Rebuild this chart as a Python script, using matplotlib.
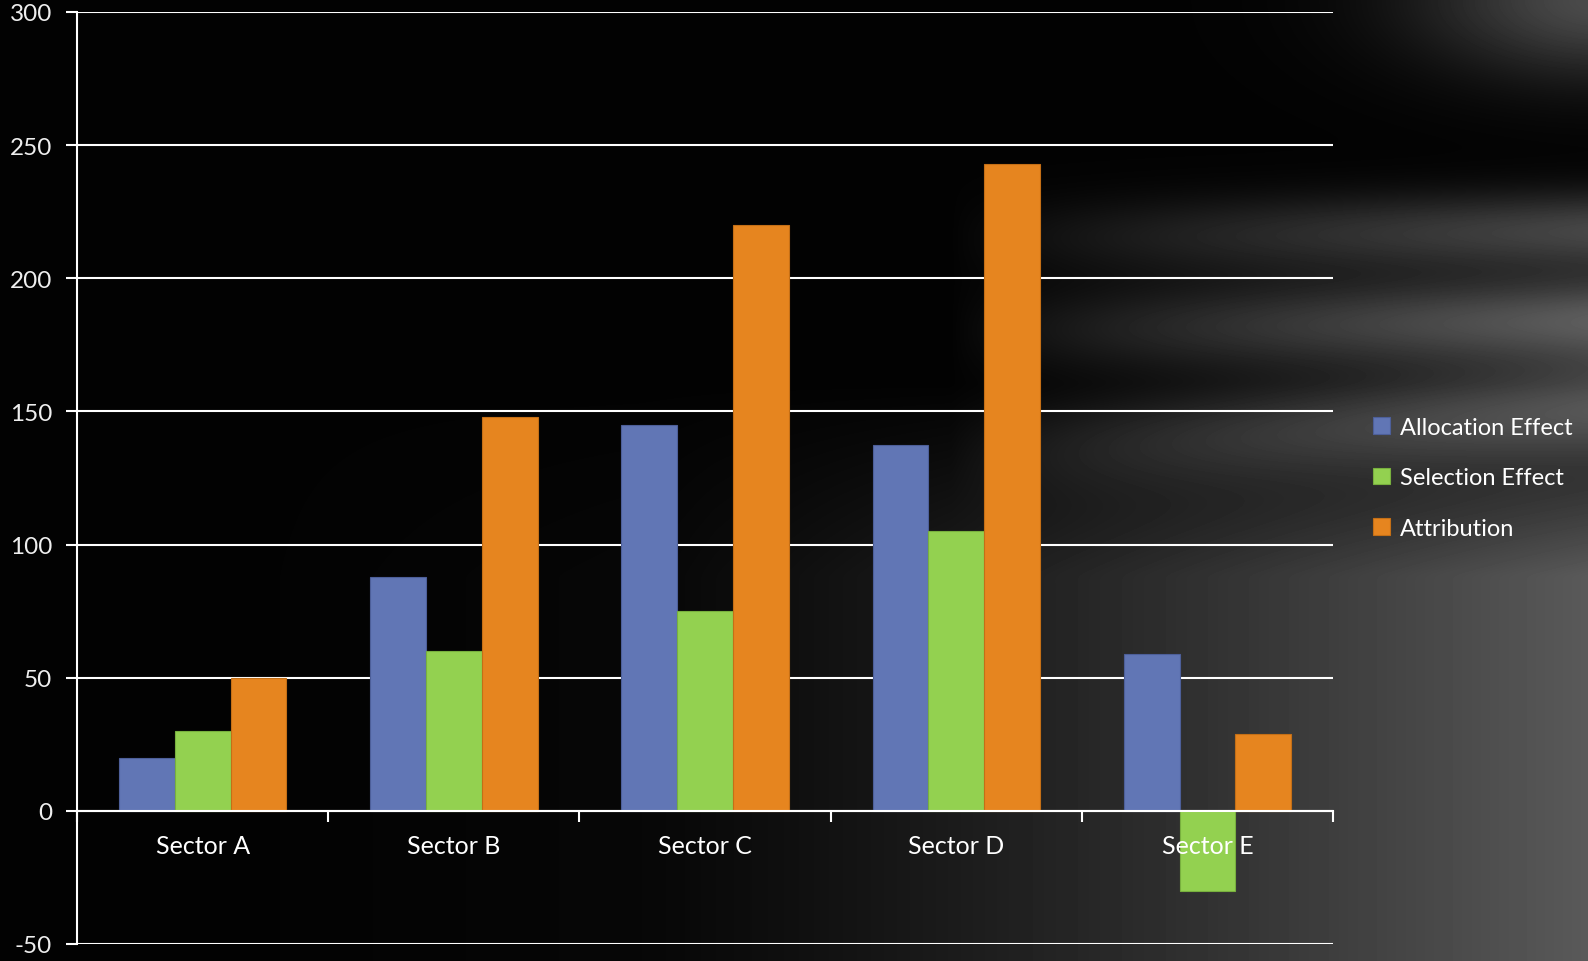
import numpy as np
import matplotlib
matplotlib.use("Agg")
import matplotlib.pyplot as plt

plt.rcParams['font.family'] = ['Lato', 'DejaVu Sans']

sectors = ['Sector A', 'Sector B', 'Sector C', 'Sector D', 'Sector E']
allocation = [20, 88, 145, 137.5, 59]
selection = [30, 60, 75, 105, -30]
attribution = [50, 148, 220, 243, 29]
series_names = ['Allocation Effect', 'Selection Effect', 'Attribution']
colors = ['#6176B5', '#93D150', '#E6851F']
edges = ['#4d5f99', '#78b03e', '#c46f16']
y_ticks = [-50, 0, 50, 100, 150, 200, 250, 300]

fig = plt.figure(figsize=(15.88, 9.62), dpi=100)
fig.patch.set_facecolor('black')

# background: black on the left, grey sheen with streaks towards the right
bg = fig.add_axes([0, 0, 1, 1], zorder=-5)
h, w = 300, 500
xx, yy = np.meshgrid(np.linspace(0, 1, w), np.linspace(0, 1, h))  # yy = 0 at top
lower = 0.02 + 0.32 * np.clip((xx - 0.40) / 0.60, 0, 1) ** 1.3
lower_w = np.clip((yy - 0.40) / 0.2, 0, 1) * np.clip((xx - 0.15) / 0.3, 0, 1)
fade = np.clip((xx - 0.60) / 0.40, 0, 1) ** 0.8
bands = (0.26 * np.exp(-((yy - (0.24 + 0.02 * (1 - xx))) / 0.04) ** 2)
         + 0.34 * np.exp(-((yy - (0.345 - 0.03 * (xx - 0.6))) / 0.045) ** 2)
         + 0.28 * np.exp(-((yy - (0.47 - 0.12 * (xx - 0.6))) / 0.05) ** 2)
         + 0.28 * np.exp(-(((yy - 0.0) / 0.08) ** 2 + ((xx - 1.0) / 0.12) ** 2)))
shade = 0.01 + lower * lower_w + bands * fade
shade = np.clip(shade, 0, 1)
bg.imshow(shade, cmap='gray', vmin=0, vmax=1, aspect='auto', extent=[0, 1, 0, 1],
          origin='upper', interpolation='bicubic')
bg.axis('off')

ax = fig.add_axes([0.0485, 0.0177, 0.791, 0.9688])
ax.set_facecolor('none')

x = np.arange(len(sectors))
width = 0.222
for i, (vals, name) in enumerate(zip([allocation, selection, attribution], series_names)):
    ax.bar(x + (i - 1) * width, vals, width, color=colors[i], edgecolor=edges[i],
           linewidth=0.8, label=name, zorder=3)

ax.set_xlim(-0.5, len(sectors) - 0.5)
ax.set_ylim(-50, 300)
ax.set_yticks(y_ticks)
ax.set_yticklabels([str(v) for v in y_ticks])
ax.yaxis.grid(True, color='white', linewidth=1.5, zorder=1)
ax.set_axisbelow(True)

# category axis crosses at zero
ax.spines['bottom'].set_position(('data', 0))
ax.spines['bottom'].set_color('white')
ax.spines['bottom'].set_linewidth(1.5)
ax.spines['bottom'].set_zorder(4)
ax.spines['left'].set_color('white')
ax.spines['left'].set_linewidth(1.5)
ax.spines['top'].set_visible(False)
ax.spines['right'].set_visible(False)

ax.set_xticks(np.arange(len(sectors) + 1) - 0.5)
ax.set_xticklabels([])
ax.tick_params(axis='x', which='major', direction='out', length=8, width=1.5, color='white')
ax.tick_params(axis='y', direction='out', length=8, width=1.5, color='white',
               labelsize=17.5, labelcolor='#eeeeee', pad=10)

# category labels drawn on top of the bars
for xi, name in zip(x, sectors):
    ax.annotate(name, (xi, 0), xytext=(0, -25), textcoords='offset points',
                ha='center', va='center', fontsize=18, color='white', zorder=6)

leg = ax.legend(loc='center left', bbox_to_anchor=(1.015, 0.5), frameon=False,
                fontsize=17, labelcolor='white', handlelength=0.7, handleheight=0.7,
                handletextpad=0.45, labelspacing=1.25)

fig.savefig('out.png', dpi=100, facecolor=fig.get_facecolor())
